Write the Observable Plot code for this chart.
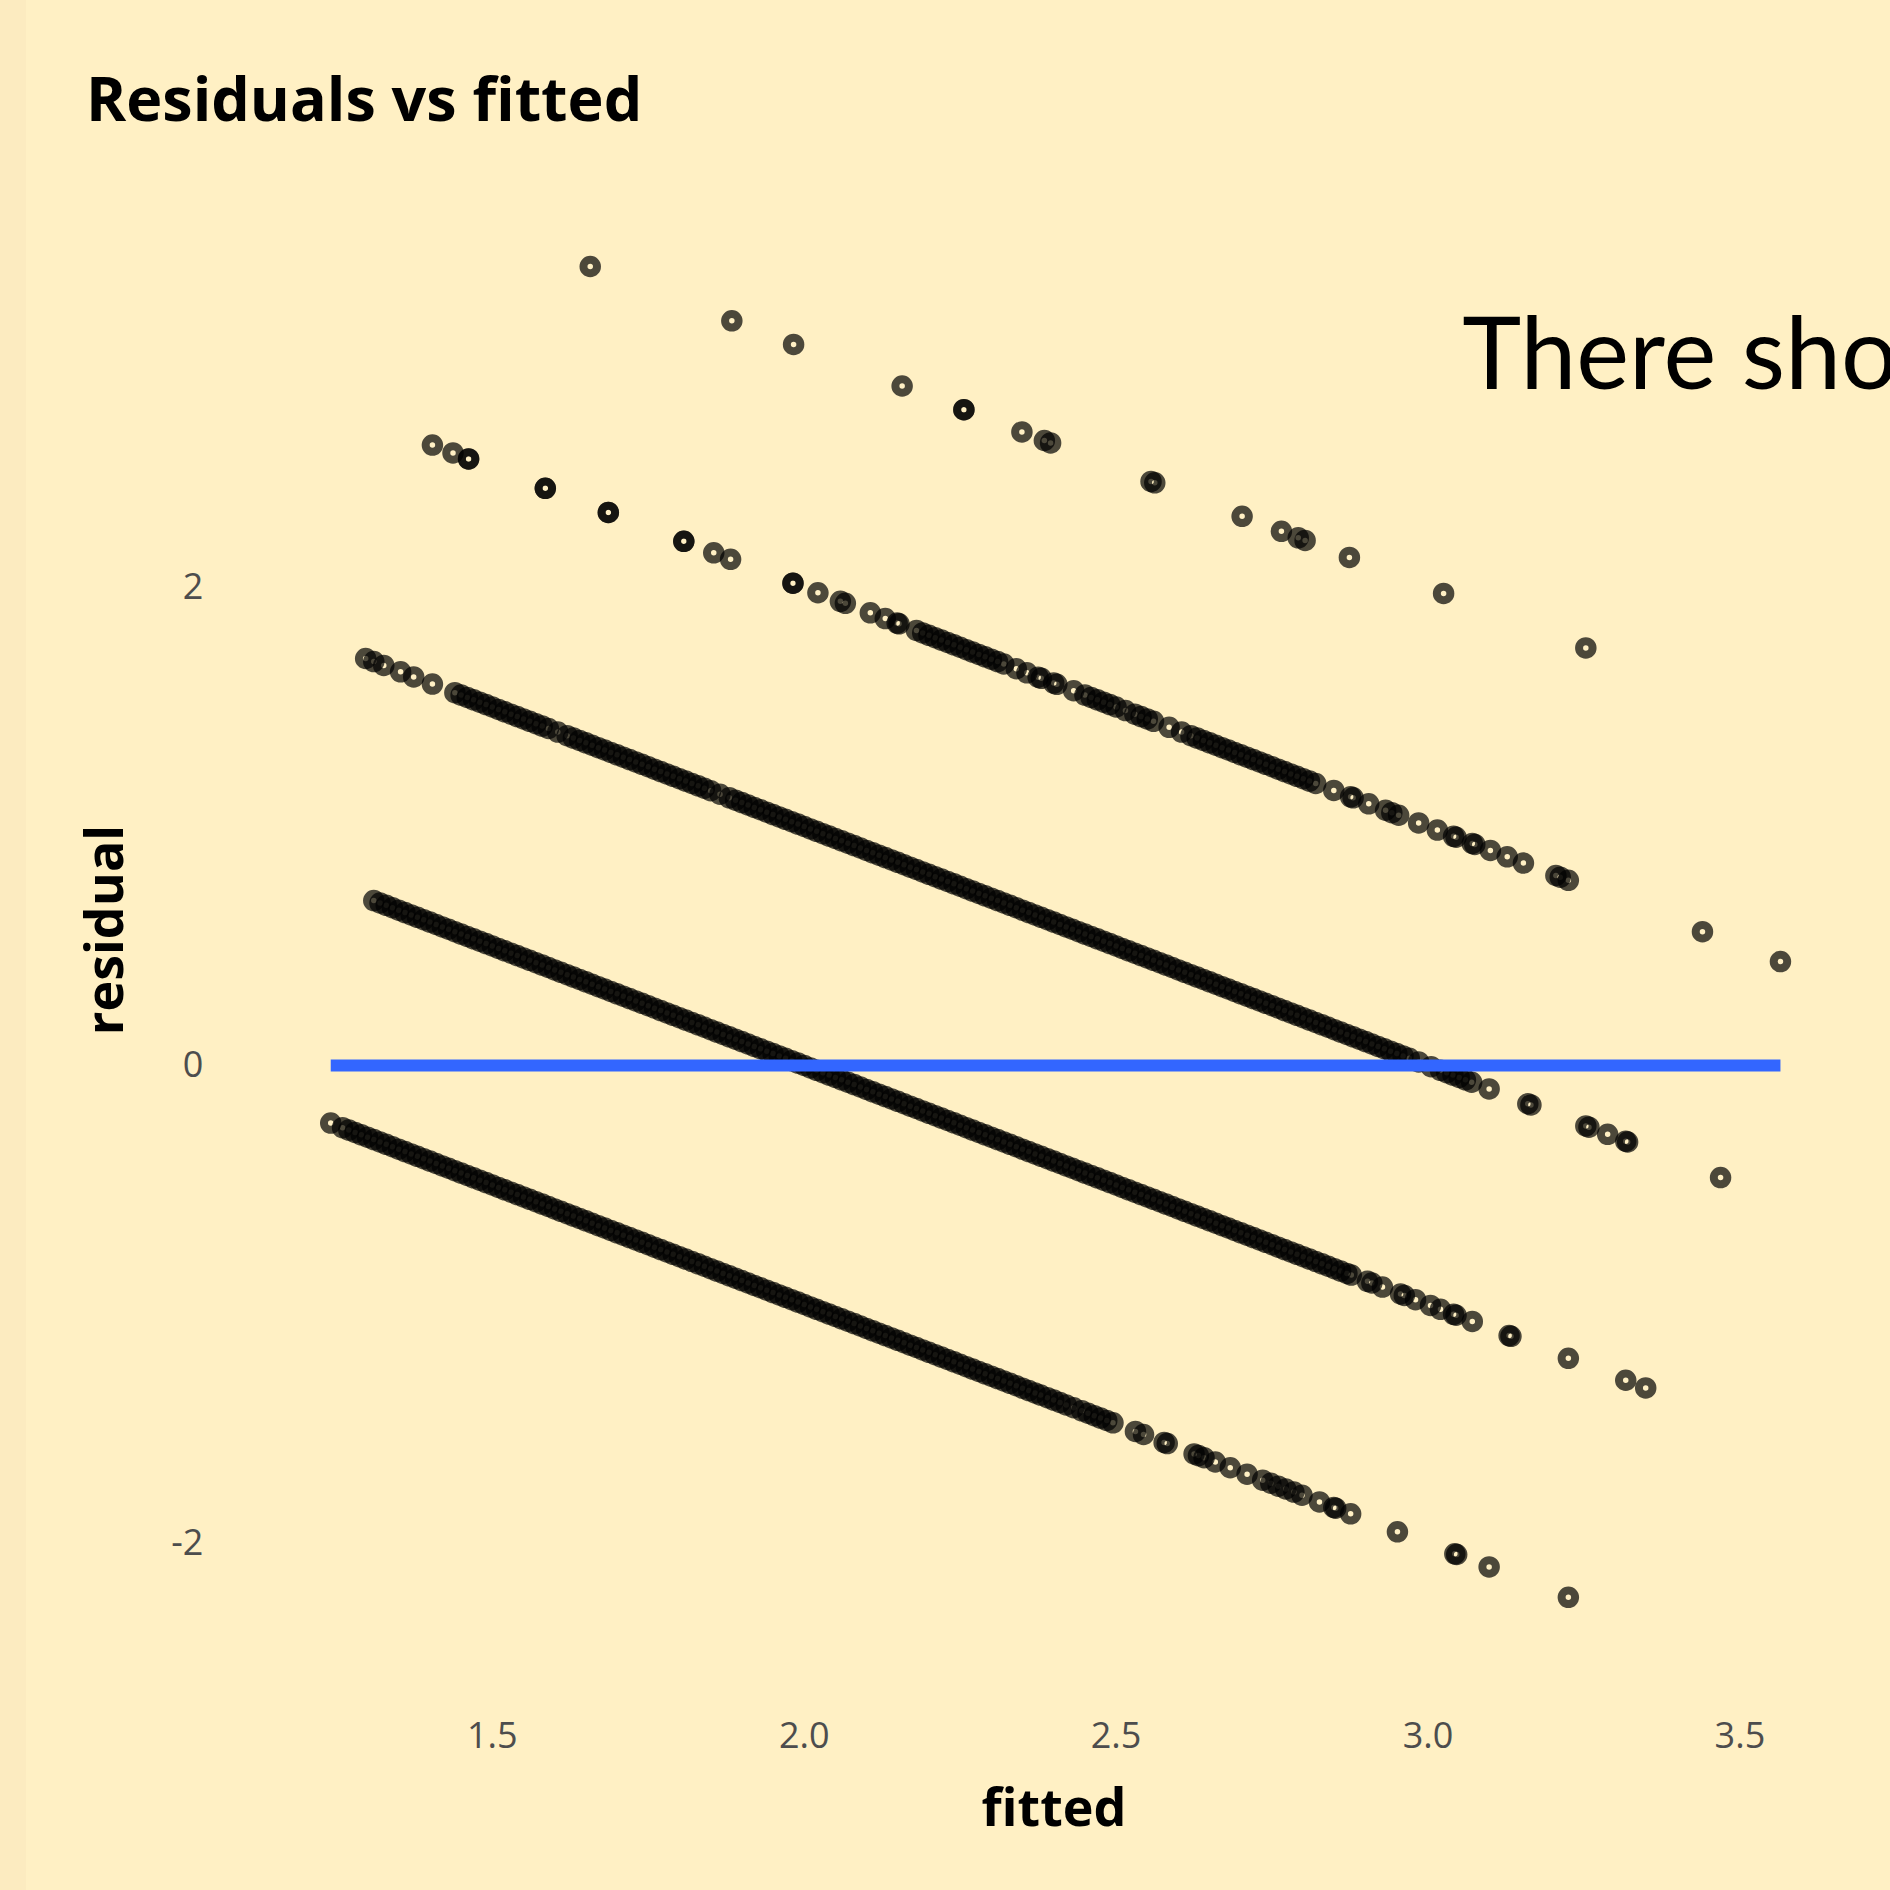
<!DOCTYPE html>
<html><head><meta charset="utf-8">
<script src="https://cdn.jsdelivr.net/npm/d3@7"></script>
<script src="https://cdn.jsdelivr.net/npm/@observablehq/plot@0.6"></script>
<style>
html,body{margin:0;padding:0;background:#FFF0C4;overflow:hidden;}
#wrap{position:relative;width:1890px;height:1890px;overflow:hidden;background:#FFF0C4;}
#strip{position:absolute;left:0;top:0;width:26px;height:1890px;background:#FCEBC0;}
#chart{position:absolute;left:0;top:0;}
</style></head><body>
<div id="wrap"><div id="strip"></div><div id="chart"></div></div>
<script>
// ---- data ----
const xTicks = [1.5, 2.0, 2.5, 3.0, 3.5];
const xTickLabels = ["1.5", "2.0", "2.5", "3.0", "3.5"];
const yTicks = [-2, 0, 2];
const yTickLabels = ["-2", "0", "2"];
const titleText = "Residuals vs fitted";
const xLabel = "fitted";
const yLabel = "residual";
const annotationText = "There should be no pattern";
const annotationX = 3.055;
const annotationY = 2.965;

// observed counts for each band (residual = observed - fitted)
const observedCounts = [1, 2, 3, 4, 5];

const fitted1 = [1.241,
1.26,1.27,1.28,1.29,1.30,1.31,1.32,1.33,1.34,1.35,
1.36,1.37,1.38,1.39,1.40,1.41,1.42,1.43,1.44,1.45,
1.46,1.47,1.48,1.49,1.50,1.51,1.52,1.53,1.54,1.55,
1.56,1.57,1.58,1.59,1.60,1.61,1.62,1.63,1.64,1.65,
1.66,1.67,1.68,1.69,1.70,1.71,1.72,1.73,1.74,1.75,
1.76,1.77,1.78,1.79,1.80,1.81,1.82,1.83,1.84,1.85,
1.86,1.87,1.88,1.89,1.90,1.91,1.92,1.93,1.94,1.95,
1.96,1.97,1.98,1.99,2.00,2.01,2.02,2.03,2.04,2.05,
2.06,2.07,2.08,2.09,2.10,2.11,2.12,2.13,2.14,2.15,
2.16,2.17,2.18,2.19,2.20,2.21,2.22,2.23,2.24,2.25,
2.26,2.27,2.28,2.29,2.30,2.31,2.32,2.33,2.34,2.35,
2.36,2.37,
2.379,2.39,2.40,2.41,2.42,2.432,2.445,2.455,2.465,2.475,2.485,2.495,2.531,2.544,2.577,2.582,
2.625,2.632,2.641,2.659,2.683,2.710,2.735,2.748,2.760,2.772,2.785,2.798,2.826,
2.849,2.852,2.876,2.951,3.043,3.046,3.098,3.225];

const fitted2 = [
1.31,1.32,1.33,1.34,1.35,1.36,1.37,1.38,1.39,1.40,
1.41,1.42,1.43,1.44,1.45,1.46,1.47,1.48,1.49,1.50,
1.51,1.52,1.53,1.54,1.55,1.56,1.57,1.58,1.59,1.60,
1.61,1.62,1.63,1.64,1.65,1.66,1.67,1.68,1.69,1.70,
1.71,1.72,1.73,1.74,1.75,1.76,1.77,1.78,1.79,1.80,
1.81,1.82,1.83,1.84,1.85,1.86,1.87,1.88,1.89,1.90,
1.91,1.92,1.93,1.94,1.95,1.96,1.97,1.98,1.99,2.00,
2.01,2.02,2.03,2.04,2.05,2.06,2.07,2.08,2.09,2.10,
2.11,2.12,2.13,2.14,2.15,2.16,2.17,2.18,2.19,2.20,
2.21,2.22,2.23,2.24,2.25,2.26,2.27,2.28,2.29,2.30,
2.31,2.32,2.33,2.34,2.35,2.36,2.37,2.38,2.39,2.40,
2.41,2.42,2.43,2.44,2.45,2.46,2.47,2.48,2.49,2.50,
2.51,2.52,2.53,2.54,2.55,2.56,2.57,2.58,2.59,2.60,
2.61,2.62,2.63,2.64,2.65,2.66,2.67,2.68,2.69,2.70,
2.71,2.72,2.73,2.74,2.75,2.76,2.77,2.78,2.79,2.80,
2.81,2.82,2.83,2.84,2.85,2.86,2.87,
2.877,2.903,2.910,2.927,2.956,2.962,2.980,3.004,3.020,3.041,3.045,3.071,
3.130,3.133,3.225,3.317,3.349];

const fitted3 = [1.297,1.310,1.326,1.353,1.374,1.404,
1.44,1.45,1.46,1.47,1.48,1.49,1.50,1.51,1.52,1.53,
1.54,1.55,1.56,1.57,1.58,1.59,1.605,1.62,1.63,1.64,1.65,
1.66,1.67,1.68,1.69,1.70,1.71,1.72,1.73,1.74,1.75,
1.76,1.77,1.78,1.79,1.80,1.81,1.82,1.83,1.84,1.85,1.865,
1.88,1.89,1.90,1.91,1.92,1.93,1.94,1.95,1.96,1.97,
1.98,1.99,2.00,2.01,2.02,2.03,2.04,2.05,2.06,2.07,
2.08,2.09,2.10,2.11,2.12,2.13,2.14,2.15,2.16,2.17,
2.18,2.19,2.20,2.21,2.22,2.23,2.24,2.25,2.26,2.27,
2.28,2.29,2.30,2.31,2.32,2.33,2.34,2.35,2.36,2.37,
2.38,2.39,2.40,2.41,2.42,2.43,2.44,2.45,2.46,2.47,
2.48,2.49,2.50,2.51,2.52,2.53,2.54,2.55,2.56,2.57,
2.58,2.59,2.60,2.61,2.62,2.63,2.64,2.65,2.66,2.67,
2.68,2.69,2.70,2.71,2.72,2.73,2.74,2.75,2.76,2.77,
2.78,2.79,2.80,2.81,2.82,2.83,2.84,2.85,2.86,2.87,
2.88,2.89,2.90,2.91,2.92,2.93,2.94,2.95,2.96,2.97,
2.985,3.005,3.02,3.03,3.04,3.05,3.06,3.07,
3.098,3.160,3.165,3.253,3.258,3.288,3.317,3.320,3.469];

const fitted4 = [1.404,1.437,1.462,1.462,1.585,1.585,1.686,1.686,1.807,1.807,
1.855,1.882,1.982,1.982,2.022,2.058,2.066,2.106,2.130,2.149,2.152,
2.18,2.19,2.20,2.21,2.22,2.23,2.24,2.25,2.26,2.27,2.28,2.29,2.30,2.31,2.32,
2.340,2.357,2.375,2.380,2.400,2.405,2.432,
2.45,2.46,2.47,2.48,2.49,2.50,2.515,2.53,2.54,2.55,2.56,2.585,2.605,
2.62,2.63,2.64,2.65,2.66,2.67,2.68,2.69,2.70,2.71,2.72,2.73,2.74,2.75,
2.76,2.77,2.78,2.79,2.80,2.81,2.82,
2.849,2.876,2.880,2.905,2.932,2.942,2.953,2.985,3.015,3.041,3.045,3.071,3.075,
3.100,3.127,3.153,3.205,3.212,3.225,3.440,3.565];

const fitted5 = [1.657,1.884,1.983,2.157,2.256,2.256,2.349,2.385,2.395,2.556,2.562,
2.702,2.765,2.792,2.803,2.874,3.025,3.253];

// ---- build table ----
const bands = [fitted1, fitted2, fitted3, fitted4, fitted5];
const rows = [];
bands.forEach((arr, i) => arr.forEach(f => rows.push({fitted: f, residual: observedCounts[i] - f})));
const [fmin, fmax] = d3.extent(rows, d => d.fitted);
const zeroLine = [{fitted: fmin, residual: 0}, {fitted: fmax, residual: 0}];

const W = 1890, H = 1890;
const plot = Plot.plot({
  width: W, height: H,
  marginLeft: 491.8, marginRight: 150.6, marginTop: 587, marginBottom: 347,
  x: {domain: [1.5, 3.5]},
  y: {domain: [-2, 2]},
  style: {background: "transparent", fontFamily: "'Open Sans', sans-serif", color: "black"},
  marks: [
    Plot.dot(rows, {x: "fitted", y: "residual", r: 6.75, fill: "none", stroke: "black", strokeOpacity: 0.7, strokeWidth: 8}),
    Plot.line(zeroLine, {x: "fitted", y: "residual", stroke: "#3366FF", strokeWidth: 12, strokeLinecap: "butt"}),
    Plot.axisX({ticks: xTicks, tickFormat: d => xTickLabels[xTicks.indexOf(d)], tickSize: 0, tickPadding: 179, fontSize: 36, fill: "#4D4D4D", label: null}),
    Plot.axisY({ticks: yTicks, tickFormat: d => yTickLabels[yTicks.indexOf(d)], tickSize: 0, tickPadding: 289, fontSize: 36, fill: "#4D4D4D", label: null}),
    Plot.text([{x: annotationX, y: annotationY, t: annotationText}], {x: "x", y: "y", text: "t", textAnchor: "start", lineAnchor: "middle", fontSize: 100, fontFamily: "Lato", fill: "black"})
  ]
});

const svg = d3.select(plot);
svg.append("text").attr("x", 86).attr("y", 120.5)
  .attr("text-anchor", "start").attr("font-family", "'Open Sans', sans-serif")
  .attr("font-weight", 700).attr("font-size", 61).attr("fill", "black").text(titleText);
svg.append("text").attr("x", 1054).attr("y", 1826)
  .attr("text-anchor", "middle").attr("font-family", "'Open Sans', sans-serif")
  .attr("font-weight", 700).attr("font-size", 52).attr("fill", "black").text(xLabel);
svg.append("text").attr("transform", "translate(123,930) rotate(-90)")
  .attr("text-anchor", "middle").attr("font-family", "'Open Sans', sans-serif")
  .attr("font-weight", 700).attr("font-size", 52).attr("fill", "black").text(yLabel);

document.getElementById("chart").appendChild(plot);
</script>
</body></html>
